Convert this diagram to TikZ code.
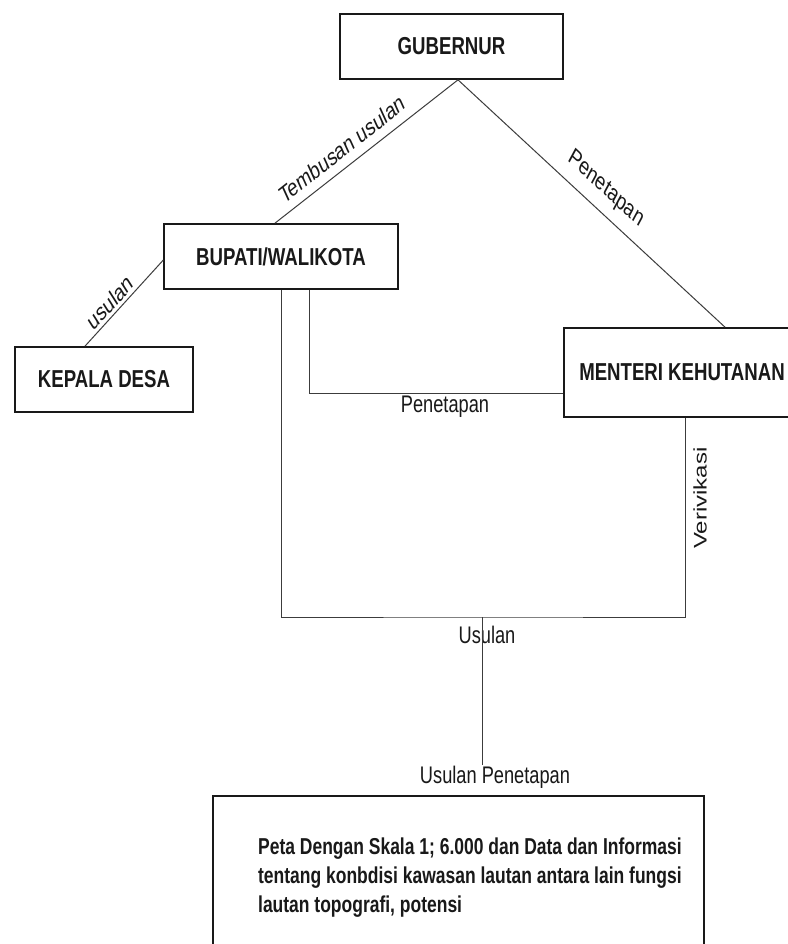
\documentclass[tikz,border=0pt]{standalone}
\usepackage{fontspec}
\setmainfont{Liberation Sans}
\usetikzlibrary{calc}
\definecolor{ink}{RGB}{25,25,25}
\tikzset{
  unit/.style={draw=ink,line width=1.7pt,minimum height=65pt,inner sep=0pt,
    font=\fontsize{24.5}{28}\selectfont\bfseries,text=ink},
  link/.style={draw=ink!85,line width=1pt},
  tag/.style={font=\fontsize{24}{28}\selectfont,text=ink,inner sep=1pt},
}

\begin{document}
\begin{tikzpicture}[x=1.31579pt,y=-1pt,xscale=0.76,transform shape]
  \useasboundingbox[fill=white] (0,0) rectangle (787,944);
  % offices
  \node[unit,minimum width=293.4pt] (gub) at (451.5,46.5) {GUBERNUR};
  \node[unit,minimum width=307.9pt] (bup) at (281,256.5) {BUPATI/WALIKOTA};
  \node[unit,minimum width=234.2pt] (kep) at (104,379.5) {KEPALA DESA};
  \node[unit,minimum width=310.5pt,minimum height=89pt] (mk) at (682,372.5) {MENTERI KEHUTANAN};
  \node[unit,line width=2.3pt,minimum width=646pt,minimum height=164pt] (peta) at (458.5,878) {};
  \node[font=\fontsize{23}{29}\selectfont\bfseries,text=ink,align=left,anchor=west,inner sep=0pt] (petatxt) at (258,878)
    {Peta Dengan Skala 1; 6.000 dan Data dan Informasi\\
     tentang konbdisi kawasan lautan antara lain fungsi\\
     lautan topografi, potensi};
  % labels
  \node[tag,rotate=31] (tu) at (342,149) {Tembusan usulan};
  \node[tag,rotate=-35.3] (pg) at (606,189) {Penetapan};
  \node[tag,rotate=40] (uk) at (110,302) {usulan};
  \node[tag] (pm) at (445,407) {Penetapan};
  \node[tag,rotate=90] (ver) at (700,498) {Verivikasi};
  \node[tag] (us) at (487,635) {Usulan};
  \node[tag] (up) at (495,777) {Usulan Penetapan};
  % connectors
  \coordinate (mid) at (483,617);
  \draw[link] ($(gub.south)+(6.5,0)$) -- ($(bup.north)+(-6,0)$);
  \draw[link] ($(gub.south)+(6.5,0)$) -- ($(mk.north)+(43,0)$);
  \draw[link] ($(kep.north)+(-19,0)$) -- ($(bup.west)+(0,3.5)$);
  \draw[link] ($(bup.south)+(29,0)$) |- ($(mk.west)+(0,21)$);
  \draw[link] ($(bup.south)+(1,0)$) |- (mid) -| ($(mk.south)+(4,0)$);
  \draw[link] (mid) -- (mid |- up.north);
\end{tikzpicture}
\end{document}
